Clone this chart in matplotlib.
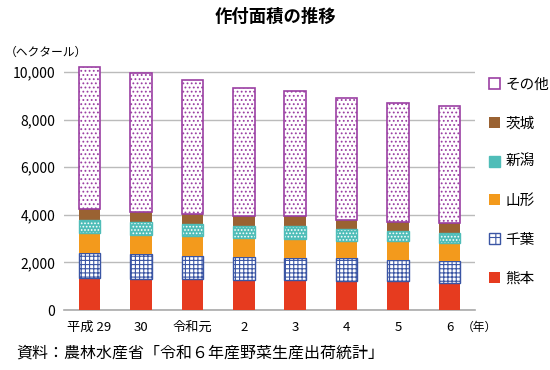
import matplotlib
matplotlib.use("Agg")
import matplotlib.pyplot as plt
import numpy as np
from matplotlib.patches import Patch

plt.rcParams['font.family'] = ['Noto Sans CJK JP', 'DejaVu Sans']
plt.rcParams['hatch.linewidth'] = 0.8

# data (hectares)
years = ['平成 29', '30', '令和元', '2', '3', '4', '5', '6']
kumamoto = [1350, 1320, 1290, 1260, 1260, 1230, 1210, 1150]
chiba = [1060, 1020, 1000, 960, 940, 940, 910, 930]
yamagata = [840, 830, 800, 800, 770, 750, 760, 750]
niigata = [540, 520, 540, 510, 540, 490, 440, 420]
ibaraki = [450, 420, 410, 410, 420, 390, 370, 410]
others = [5970, 5860, 5600, 5400, 5270, 5120, 5010, 4920]

red = '#E63B1F'
blue = '#3A55A4'
orange = '#F39A1C'
teal = '#4FBDB8'
brown = '#9A6232'
purple = '#9B3FA3'

fig = plt.figure(figsize=(5.5, 3.7), dpi=100)
ax = fig.add_axes([0.116, 0.162, 0.748, 0.663])

x = np.arange(len(years))
w = 0.42
bottom = np.zeros(len(years))

# 熊本
ax.bar(x, kumamoto, w, bottom=bottom, color=red, zorder=3)
bottom += kumamoto
# 千葉
ax.bar(x, chiba, w, bottom=bottom, facecolor='white', edgecolor=blue,
       hatch='++++', linewidth=1.0, zorder=3)
bottom += chiba
# 山形
ax.bar(x, yamagata, w, bottom=bottom, color=orange, zorder=3)
bottom += yamagata
# 新潟
ax.bar(x, niigata, w, bottom=bottom, color=teal, zorder=3)
ax.bar(x, niigata, w, bottom=bottom, facecolor='none', edgecolor='white',
       hatch='.....', linewidth=0, zorder=4)
ax.bar(x, niigata, w, bottom=bottom, facecolor='none', edgecolor=teal,
       linewidth=1.0, zorder=5)
bottom += niigata
# 茨城
ax.bar(x, ibaraki, w, bottom=bottom, color=brown, zorder=3)
bottom += ibaraki
# その他
ax.bar(x, others, w, bottom=bottom, facecolor='white', edgecolor=purple,
       hatch='....', linewidth=1.2, zorder=3)

ax.set_xlim(-0.5, len(years) - 0.5)
ax.set_ylim(0, 10300)
ax.set_yticks(np.arange(0, 10001, 2000))
ax.set_yticklabels(['{:,}'.format(v) for v in range(0, 10001, 2000)], fontsize=10)
ax.set_xticks(x)
ax.set_xticklabels(years, fontsize=9.5)
ax.tick_params(length=0, pad=8)
ax.tick_params(axis='y', pad=6)
ax.grid(axis='y', color='#BBBBBB', linewidth=1.0, zorder=0)
for s in ['top', 'right', 'left']:
    ax.spines[s].set_visible(False)
ax.spines['bottom'].set_color('#AAAAAA')
ax.spines['bottom'].set_linewidth(1.2)

fig.text(0.5, 0.955, '作付面積の推移', ha='center', va='center',
         fontsize=12.5, fontweight='bold')
fig.text(0.008, 0.858, '（ヘクタール）', ha='left', va='center', fontsize=8.5)
fig.text(0.84, 0.115, '（年）', ha='left', va='center', fontsize=8.5)
fig.text(0.03, 0.045, '資料：農林水産省「令和６年産野菜生産出荷統計」',
         ha='left', va='center', fontsize=11.5)

handles = [
    Patch(facecolor='white', edgecolor=purple, linewidth=1.2, label='その他'),
    Patch(facecolor=brown, label='茨城'),
    Patch(facecolor=teal, edgecolor=teal, hatch='.....', label='新潟'),
    Patch(facecolor=orange, label='山形'),
    Patch(facecolor='white', edgecolor=blue, hatch='++', label='千葉'),
    Patch(facecolor=red, label='熊本'),
]
fig.legend(handles=handles, loc='upper left', bbox_to_anchor=(0.875, 0.81),
           frameon=False, fontsize=10.5, handlelength=0.8, handleheight=0.8,
           handletextpad=0.35, labelspacing=1.7, borderpad=0)

fig.savefig('out.png', dpi=100)
